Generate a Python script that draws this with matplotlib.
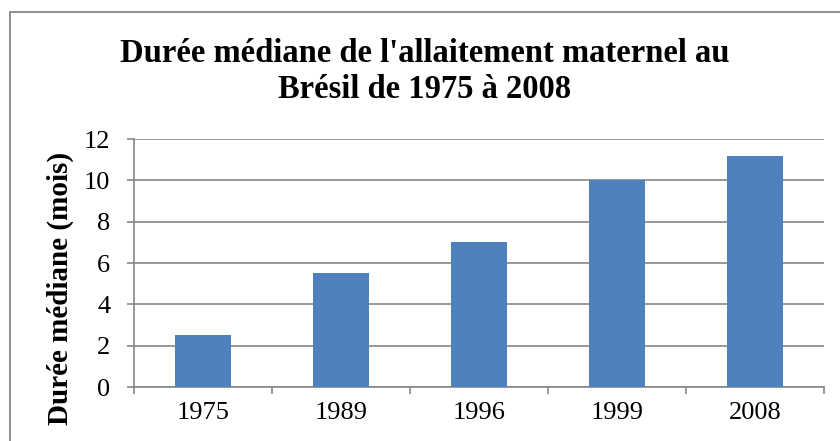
import numpy as np
import matplotlib.pyplot as plt
from matplotlib.patches import Rectangle

years = ['1975', '1989', '1996', '1999', '2008']
durations = [2.5, 5.5, 7.0, 10.0, 11.2]
y_ticks = [0, 2, 4, 6, 8, 10, 12]

plt.rcParams['font.family'] = ['Liberation Serif', 'DejaVu Serif']

fig = plt.figure(figsize=(8.4, 4.41), dpi=100)

# chart border like an Excel chart frame
fig.patches.append(Rectangle((10/840, -0.2), 1.2, 1.2 - 12/441,
                             transform=fig.transFigure, fill=False,
                             edgecolor='#868686', linewidth=1.3))

ax = fig.add_axes([134/840, 1 - 387/441, (824 - 134)/840, (387 - 139)/441])

x = np.arange(len(years))
ax.bar(x, durations, width=0.4, color='#4F81BD', zorder=3)

ax.set_xlim(-0.5, len(years) - 0.5)
ax.set_ylim(0, 12)
ax.set_yticks(y_ticks)
ax.yaxis.grid(True, color='#868686', linewidth=1.2, zorder=0)

ax.set_xticks(x)
ax.set_xticklabels(years)
ax.set_xticks(np.arange(len(years) + 1) - 0.5, minor=True)
ax.tick_params(axis='x', which='major', length=0, pad=11, labelsize=19)
ax.tick_params(axis='x', which='minor', length=5, color='#868686', width=1.2)
ax.tick_params(axis='y', length=5, color='#868686', width=1.2, pad=12, labelsize=19)

for side in ['top', 'right']:
    ax.spines[side].set_visible(False)
for side in ['left', 'bottom']:
    ax.spines[side].set_color('#868686')
    ax.spines[side].set_linewidth(1.2)

ax.set_ylabel('Durée médiane (mois)', fontsize=21, fontweight='bold', va='center')
ax.yaxis.set_label_coords((60 - 134)/690, (387 - 288)/248)

fig.text(425/840, 1 - 54/441, "Durée médiane de l'allaitement maternel au",
         ha='center', va='center', fontsize=23.5, fontweight='bold')
fig.text(425/840, 1 - 90/441, "Brésil de 1975 à 2008",
         ha='center', va='center', fontsize=23.5, fontweight='bold')

fig.savefig('out.png', dpi=100)
